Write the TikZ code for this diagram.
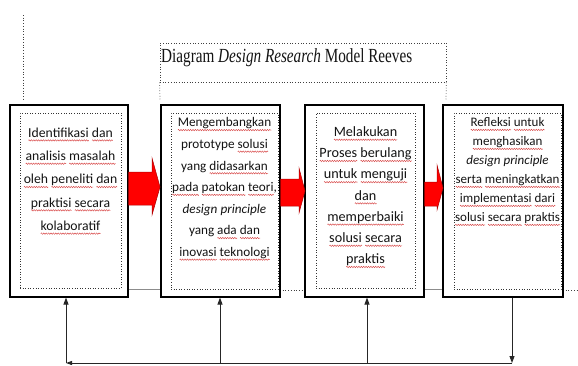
\documentclass[tikz,border=0pt]{standalone}
\usepackage{fontspec}
\usepackage{graphicx}
\setmainfont{Carlito}
\newfontfamily\titlefont{Liberation Serif}
\usetikzlibrary{arrows.meta,decorations.pathmorphing}
\definecolor{txt}{HTML}{141414}
\definecolor{squig}{HTML}{D84848}
\definecolor{arrred}{HTML}{FF0000}
\definecolor{arredge}{HTML}{B00000}
\newsavebox\wvbox
\newcommand\wv[1]{\sbox\wvbox{#1}\edef\wvw{\the\wd\wvbox}\leavevmode\rlap{\tikz[baseline=0pt,x=1pt,y=1pt]\draw[squig,line width=0.45pt,decorate,decoration={zigzag,segment length=2.4pt,amplitude=0.7pt}] (0pt,-3.2pt) -- (\wvw,-3.2pt);}\usebox\wvbox}
\tikzset{
  outerbox/.style={draw=black, line width=1.1pt, fill=white, inner sep=0pt},
  innerbox/.style={draw=black!80, dotted, line width=0.6pt, inner sep=0pt},
  boxtext/.style={anchor=north, inner sep=0pt, align=center, text=txt},
  redarrow/.style={fill=arrred, draw=arredge, line width=0.5pt},
  fb/.style={draw=black!85, line width=0.9pt},
  fbtip/.style={-{Triangle[length=7pt,width=5pt]}},
  dotline/.style={draw=black!75, dotted, line width=0.7pt},
  grayline/.style={draw=black!45, line width=0.8pt}
}
\begin{document}
\begin{tikzpicture}[x=1pt,y=-1pt]
\useasboundingbox (0,0) rectangle (578,365);
\fill[white] (0,0) rectangle (578,365);

% top-left dotted line and title box
\coordinate (tl1) at (23,15);
\coordinate (tl2) at (23,100);
\draw[dotline] (tl1) -- (tl2);
\node[draw=black!75, dotted, line width=0.7pt, minimum width=286pt, minimum height=39pt, inner sep=0pt] (tbox) at (303,62.5) {};
\node[anchor=base west, inner sep=0pt, text=txt] (title) at (161,62)
  {\titlefont\fontsize{20}{20}\selectfont\scalebox{0.76}[1]{Diagram \textit{Design Research} Model Reeves}};
\coordinate (tll) at (160,100);
\coordinate (tlr) at (446,100);
\draw[dotline] (tbox.south west) -- (tll);
\draw[dotline] (tbox.south east) -- (tlr);

% bottom connecting line behind boxes
\coordinate (h0) at (128,289);
\coordinate (h1) at (161,289);
\coordinate (h2) at (280,290);
\coordinate (h3) at (305,290);
\coordinate (h4) at (424,289);
\coordinate (h5) at (443,289);
\coordinate (h6) at (563,290);
\coordinate (h7) at (578,290);
\draw[grayline] (h0) -- (h1);
\draw[dotline] (h2) -- (h3);
\draw[grayline] (h4) -- (h5);
\draw[dotline] (h6) -- (h7);

% boxes
\node[outerbox, minimum width=118pt, minimum height=192pt] (b1) at (69,201) {};
\node[outerbox, minimum width=119pt, minimum height=192pt] (b2) at (220.5,201) {};
\node[outerbox, minimum width=119pt, minimum height=192pt] (b3) at (364.5,201) {};
\node[outerbox, minimum width=120pt, minimum height=192pt] (b4) at (503,201) {};

\node[innerbox, minimum width=101pt, minimum height=175pt] (i1) at (70.5,200.5) {};
\node[innerbox, minimum width=107pt, minimum height=176pt] (i2) at (224.5,201) {};
\node[innerbox, minimum width=99pt, minimum height=175pt] (i3) at (365.5,200.5) {};
\node[innerbox, minimum width=107pt, minimum height=176pt] (i4) at (507.5,201) {};

% texts
\node[boxtext, font=\fontsize{13.7}{23.3}\selectfont] (t1) at (70.5,127.5)
 {\wv{Identifikasi} \wv{dan}\\ \wv{analisis} \wv{masalah}\\ \wv{oleh} \wv{peneliti} \wv{dan}\\ \wv{praktisi} \wv{secara}\\ \wv{kolaboratif}};
\node[boxtext, font=\fontsize{13.2}{21.6}\selectfont] (t2) at (224.5,117.5)
 {\wv{Mengembangkan}\\ prototype \wv{solusi}\\ yang \wv{didasarkan}\\ \wv{pada} \wv{patokan} \wv{teori},\\ \textit{design principle}\\ yang \wv{ada} \wv{dan}\\ \wv{inovasi} \wv{teknologi}};
\node[boxtext, font=\fontsize{14.2}{21.2}\selectfont] (t3) at (365.5,126.5)
 {\wv{Melakukan}\\ \wv{Proses} \wv{berulang}\\ \wv{untuk} \wv{menguji}\\ \wv{dan}\\ \wv{memperbaiki}\\ \wv{solusi} \wv{secara}\\ \wv{praktis}};
\node[boxtext, font=\fontsize{13}{19}\selectfont] (t4) at (507.5,117.5)
 {\wv{Refleksi} \wv{untuk}\\ \wv{menghasikan}\\ \textit{design principle}\\ \wv{serta} \wv{meningkatkan}\\ \wv{implementasi} \wv{dari}\\ \wv{solusi} \wv{secara} \wv{praktis}};

% red block arrows
\draw[redarrow] (b1.east |- 0,172) -- (152,172) -- (152,158) -- (160,187) -- (152,215) -- (152,205) -- (b1.east |- 0,205) -- cycle;
\draw[redarrow] (b2.east |- 0,179) -- (299,179) -- (299,168) -- (305,191) -- (299,213) -- (299,206) -- (b2.east |- 0,206) -- cycle;
\draw[redarrow] (b3.east |- 0,182) -- (437,182) -- (437,165) -- (443,188) -- (437,210) -- (437,206) -- (b3.east |- 0,206) -- cycle;

% feedback loop
\coordinate (f1) at (66,363);
\coordinate (f2) at (220,363);
\coordinate (f3) at (367,363);
\coordinate (f4) at (512,363);
\draw[fb, fbtip] (b4.south -| f4) -- (f4);
\draw[fb, -{Triangle[length=6pt,width=4pt]}] (f4) -- (f1);
\draw[fb, fbtip] (f1) -- (b1.south -| f1);
\draw[fb, fbtip] (f2) -- (b2.south -| f2);
\draw[fb, fbtip] (f3) -- (b3.south -| f3);
\end{tikzpicture}
\end{document}
